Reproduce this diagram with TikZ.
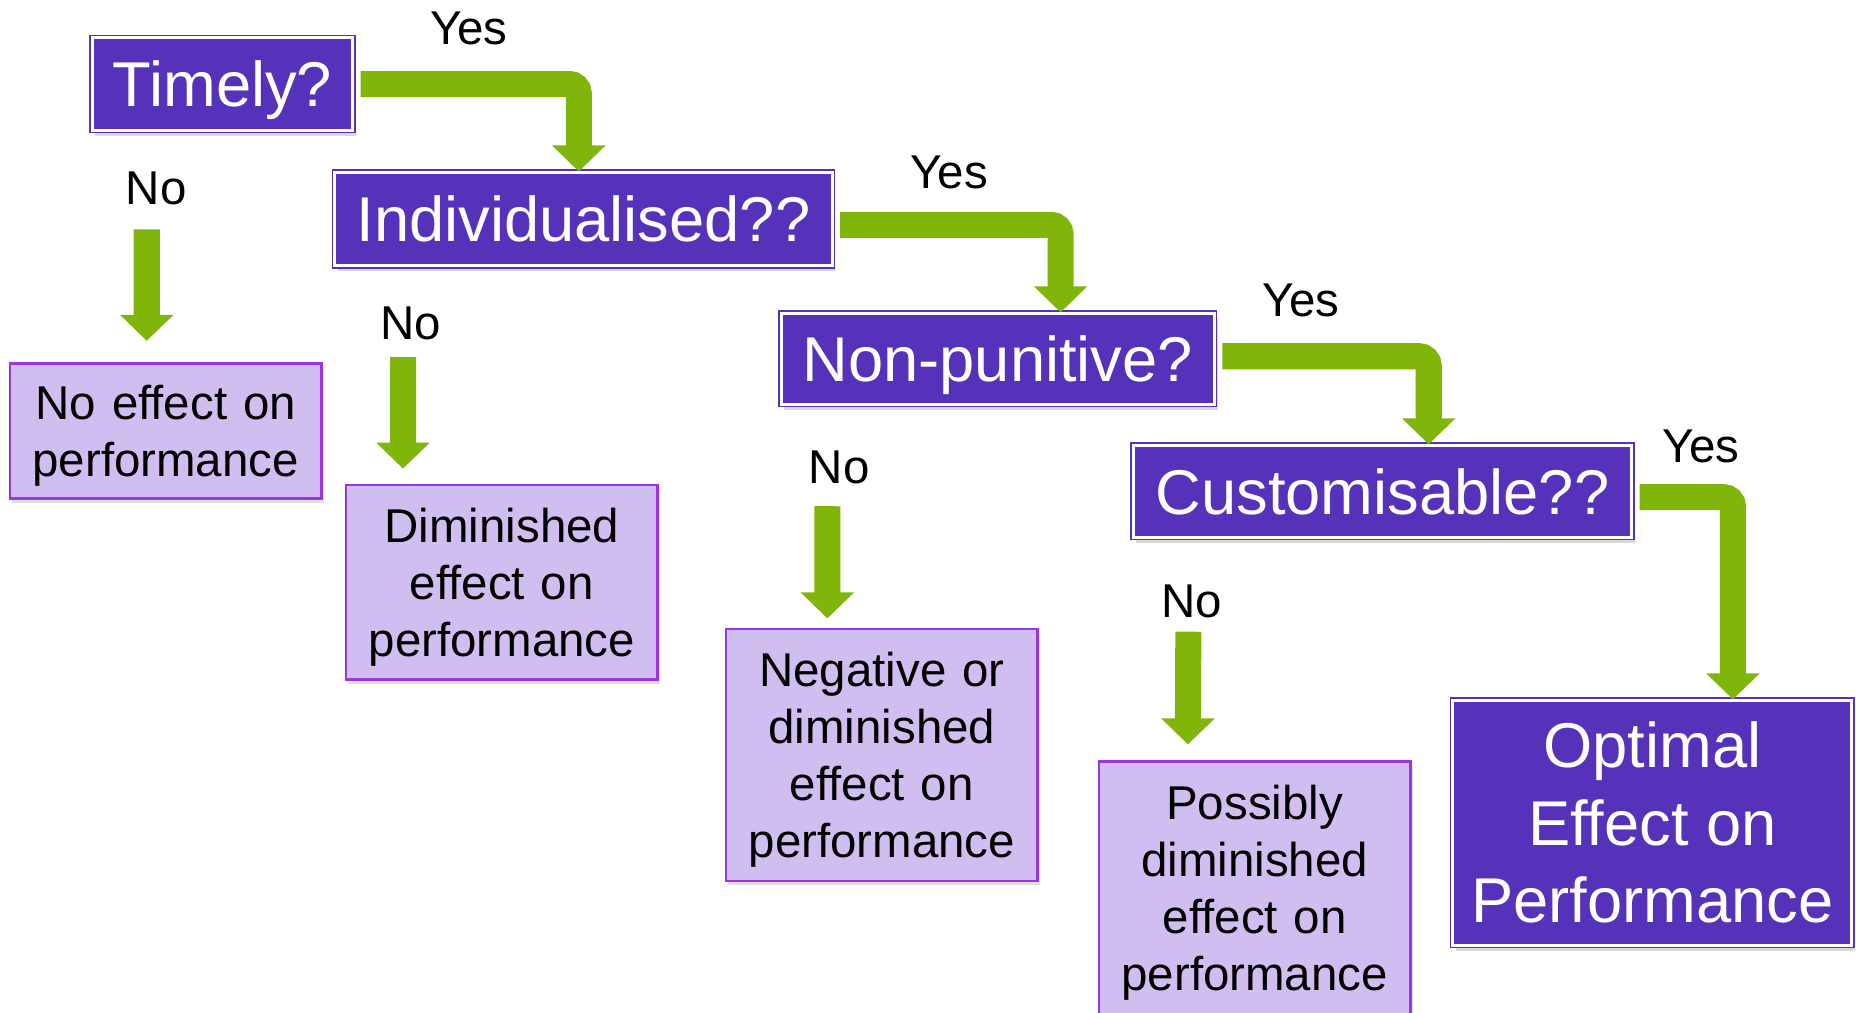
\documentclass[tikz,border=0pt]{standalone}
\usepackage{fontspec}
\setmainfont{Liberation Sans}
\usetikzlibrary{arrows.meta,shadows}

\definecolor{qpurple}{HTML}{5532B9}
\definecolor{rlilac}{HTML}{D0BEF0}
\definecolor{rborder}{HTML}{9A35E0}
\definecolor{agreen}{HTML}{80B60A}

\tikzset{
  question/.style={fill=qpurple, draw=qpurple, double=white, double distance=0.025cm,
    line width=0.012cm, text=white, font=\fontsize{15.2}{18}\selectfont, inner sep=0pt,
    text depth=0pt,
    drop shadow={shadow xshift=0.025cm, shadow yshift=-0.045cm, opacity=0.3}},
  result/.style={fill=rlilac, draw=rborder, line width=0.02cm, minimum width=2.63cm,
    text width=2.6cm, align=center, font=\fontsize{11.4}{13.66}\selectfont, inner sep=0pt,
    execute at begin node={\rule{0pt}{0.37cm}},
    drop shadow={shadow xshift=0.02cm, shadow yshift=-0.035cm, opacity=0.25}},
  answer/.style={font=\fontsize{11.4}{13.66}\selectfont, inner sep=0pt},
  yesarrow/.style={draw=agreen, line width=0.22cm, rounded corners=0.08cm,
    -{Triangle[width=0.44cm,length=0.22cm]}, shorten <=0.06cm},
  noarrow/.style={draw=agreen, line width=0.22cm, -{Triangle[width=0.44cm,length=0.22cm]}},
}

\begin{document}
\begin{tikzpicture}[x=0.01cm, y=-0.01cm]
    \useasboundingbox (0,0) rectangle (1568,855);

    % Questions
    \node[question, minimum width=2.2cm, minimum height=0.78cm] (timely) at (188,71) {Timely?};
    \node[question, minimum width=4.2cm, minimum height=0.79cm] (indiv) at (493,185) {Individualised??};
    \node[question, minimum width=3.66cm, minimum height=0.77cm] (nonpun) at (843,303) {Non-punitive?};
    \node[question, minimum width=4.21cm, minimum height=0.78cm] (custom) at (1168,415) {Customisable??};
    \node[question, minimum width=3.37cm, minimum height=2.07cm, align=center, text depth=,
          font=\fontsize{15.2}{18.6}\selectfont] (optimal) at (1396,695)
          {Optimal\\Effect on\\Performance};

    % Results
    \node[result, minimum height=1.14cm] (res1) at (140,364) {No effect on\\performance};
    \node[result, minimum height=1.64cm] (res2) at (424,492) {Diminished\\effect on\\performance};
    \node[result, minimum height=2.13cm] (res3) at (745,638) {Negative or\\diminished\\effect on\\performance};
    \node[result, minimum height=2.13cm] (res4) at (1060,750) {Possibly\\diminished\\effect on\\performance};

    % Yes labels
    \node[answer] (yes1) at (396,24) {Yes};
    \node[answer] (yes2) at (802,146) {Yes};
    \node[answer] (yes3) at (1099,254) {Yes};
    \node[answer] (yes4) at (1437,377) {Yes};

    % No labels
    \node[answer] (no1) at (132,159) {No};
    \node[answer] (no2) at (347,273) {No};
    \node[answer] (no3) at (709,395) {No};
    \node[answer] (no4) at (1007,508) {No};

    % Yes arrows
    \draw[yesarrow] (timely.east) -| ([xshift=-0.04cm]indiv.north);
    \draw[yesarrow] ([yshift=-0.05cm]indiv.east) -| ([xshift=0.53cm]nonpun.north);
    \draw[yesarrow] ([yshift=0.02cm]nonpun.east) -| ([xshift=0.39cm]custom.north);
    \draw[yesarrow] ([yshift=-0.05cm]custom.east) -| ([xshift=0.68cm]optimal.north);

    % No arrows
    \draw[noarrow, shorten <=0.2cm, shorten >=0.18cm] ([xshift=-0.08cm]no1.south) -- ([xshift=-0.16cm]res1.north);
    \draw[noarrow, shorten <=0.14cm, shorten >=0.13cm] ([xshift=-0.065cm]no2.south) -- ([xshift=-0.835cm]res2.north);
    \draw[noarrow, shorten <=0.18cm, shorten >=0.08cm] ([xshift=-0.10cm]no3.south) -- ([xshift=-0.46cm]res3.north);
    \draw[noarrow, shorten <=0.11cm, shorten >=0.135cm] ([xshift=-0.03cm]no4.south) -- ([xshift=-0.565cm]res4.north);
\end{tikzpicture}
\end{document}
